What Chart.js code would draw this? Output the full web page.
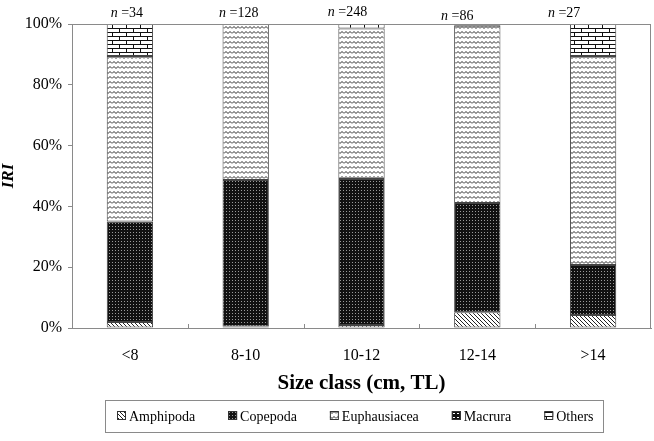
<!DOCTYPE html>
<html><head><meta charset="utf-8">
<script src="https://cdn.jsdelivr.net/npm/chart.js@4.4.1/dist/chart.umd.min.js"></script>
<style>html,body{margin:0;padding:0;background:#fff}#wrap{width:654px;height:441px}</style>
</head><body><div id="wrap"><canvas id="c" width="654" height="441"></canvas></div>
<script>
const categories = ['<8', '8-10', '10-12', '12-14', '>14'];
const sampleSizes = [34, 128, 248, 86, 27];
const amphipoda = [2, 0.5, 1, 5.2, 4.3];
const copepoda = [33, 48.2, 48, 35.9, 16.4];
const euphausiacea = [54.5, 51.3, 49.5, 58.3, 68.8];
const macrura = [0, 0, 0, 0.6, 0];
const others = [10.5, 0, 1.5, 0, 10.5];
const yTicks = [0, 20, 40, 60, 80, 100];

const SERIF = '"Liberation Serif", "DejaVu Serif", serif';

function makePattern(w, h, draw) {
  const c = document.createElement('canvas');
  c.width = w; c.height = h;
  const g = c.getContext('2d');
  draw(g, w, h);
  return document.getElementById('c').getContext('2d').createPattern(c, 'repeat');
}
const patAmphi = makePattern(4, 4, (g) => {
  g.fillStyle = '#fff'; g.fillRect(0, 0, 4, 4);
  g.fillStyle = '#222';
  for (let i = 0; i < 4; i++) { g.fillRect(i, i, 1, 1); }
});
const patCope = makePattern(3, 3, (g) => {
  g.fillStyle = '#111'; g.fillRect(0, 0, 3, 3);
  g.fillStyle = '#9a9a9a'; g.fillRect(1, 1, 1, 1);
});
const patEuph = makePattern(8, 5, (g) => {
  g.fillStyle = '#fff'; g.fillRect(0, 0, 8, 5);
  g.strokeStyle = '#2a2a2a'; g.lineWidth = 1;
  g.beginPath();
  g.moveTo(0, 3.5); g.lineTo(2, 1.5); g.lineTo(4, 3.5); g.lineTo(6, 1.5); g.lineTo(8, 3.5);
  g.stroke();
});
const patMac = makePattern(4, 4, (g) => {
  g.fillStyle = '#111'; g.fillRect(0, 0, 4, 4);
  g.fillStyle = '#fff'; g.fillRect(1, 1, 2, 1);
});
const patOth = makePattern(14, 8, (g) => {
  g.fillStyle = '#fff'; g.fillRect(0, 0, 14, 8);
  g.fillStyle = '#111';
  g.fillRect(0, 0, 14, 1); g.fillRect(0, 4, 14, 1);
  g.fillRect(0, 0, 1, 4); g.fillRect(7, 4, 1, 4);
});

const mkDs = (label, data, bg) => ({
  label, data, backgroundColor: bg, borderColor: '#444', borderWidth: 1,
  borderSkipped: false, categoryPercentage: 1, barPercentage: 0.4
});

// small manual nudges of the n-labels, as placed in the original figure
const labelNudgeX = [-3, -7, -14, -20, -29];
const labelNudgeY = [0, 0, -1, 3, 0];

const framePlugin = {
  id: 'frame',
  afterDraw(chart) {
    const ctx = chart.ctx, a = chart.chartArea, x = chart.scales.x;
    ctx.save();
    ctx.strokeStyle = '#8a8a8a'; ctx.lineWidth = 1;
    ctx.strokeRect(a.left + 0.5, a.top + 0.5, a.right - a.left - 1, a.bottom - a.top);
    const n = categories.length;
    const step = (a.right - a.left) / n;
    ctx.beginPath();
    for (let i = 1; i < n; i++) {
      const px = Math.round(x.getPixelForValue(i) - step / 2) + 0.5;
      ctx.moveTo(px, a.bottom); ctx.lineTo(px, a.bottom - 4);
    }
    ctx.stroke();
    // n labels
    ctx.fillStyle = '#000';
    ctx.textBaseline = 'middle';
    ctx.textAlign = 'left';
    categories.forEach((c, i) => {
      const cx = x.getPixelForValue(i) + labelNudgeX[i];
      const f1 = 'italic 14px ' + SERIF, f2 = '14px ' + SERIF;
      ctx.font = f1; const w1 = ctx.measureText('n').width;
      ctx.font = f2; const t2 = ' =' + sampleSizes[i]; const w2 = ctx.measureText(t2).width;
      const sx = cx - (w1 + w2) / 2;
      const yy = a.top - 11 + labelNudgeY[i];
      ctx.font = f1; ctx.fillText('n', sx, yy);
      ctx.font = f2; ctx.fillText(t2, sx + w1, yy);
    });
    // legend
    const ly = 416;
    let lx = 117;
    ctx.font = '14px ' + SERIF;
    ctx.strokeStyle = '#8a8a8a';
    ctx.strokeRect(105.5, 400.5, 498, 32);
    chart.data.datasets.forEach((ds) => {
      ctx.fillStyle = ds.backgroundColor;
      ctx.fillRect(lx, ly - 5, 9, 9);
      ctx.strokeStyle = '#333';
      ctx.strokeRect(lx + 0.5, ly - 4.5, 8, 8);
      ctx.fillStyle = '#000';
      ctx.fillText(ds.label, lx + 12, ly + 1);
      lx += 12 + ctx.measureText(ds.label).width + 33;
    });
    ctx.restore();
  }
};

new Chart(document.getElementById('c'), {
  type: 'bar',
  data: {
    labels: categories,
    datasets: [
      mkDs('Amphipoda', amphipoda, patAmphi),
      mkDs('Copepoda', copepoda, patCope),
      mkDs('Euphausiacea', euphausiacea, patEuph),
      mkDs('Macrura', macrura, patMac),
      mkDs('Others', others, patOth)
    ]
  },
  options: {
    responsive: false, animation: false,
    layout: { padding: { left: 0, right: 3, top: 24, bottom: 0 } },
    plugins: {
      legend: { display: false },
      tooltip: { enabled: false }
    },
    scales: {
      x: {
        stacked: true,
        grid: { display: false },
        border: { display: true, color: '#8a8a8a' },
        ticks: { color: '#000', font: { family: SERIF, size: 16 }, padding: 10 },
        title: { display: true, text: 'Size class (cm, TL)', color: '#000',
          font: { family: SERIF, size: 21, weight: 'bold' }, padding: { top: 4, bottom: 45 } },
        afterFit(s) { s.height = 113; }
      },
      y: {
        stacked: true, min: 0, max: 100,
        afterBuildTicks(s) { s.ticks = yTicks.map(v => ({ value: v })); },
        grid: { drawOnChartArea: false, tickLength: 4, color: '#8a8a8a' },
        border: { display: true, color: '#8a8a8a' },
        ticks: { color: '#000', font: { family: SERIF, size: 16 }, padding: 6,
          callback: (v) => v + '%' },
        title: { display: true, text: 'IRI', color: '#000', padding: 0,
          font: { family: SERIF, size: 17, weight: 'bold', style: 'italic', lineHeight: 1 } },
        afterFit(s) { s.width = 72; }
      }
    }
  },
  plugins: [framePlugin]
});
</script></body></html>
